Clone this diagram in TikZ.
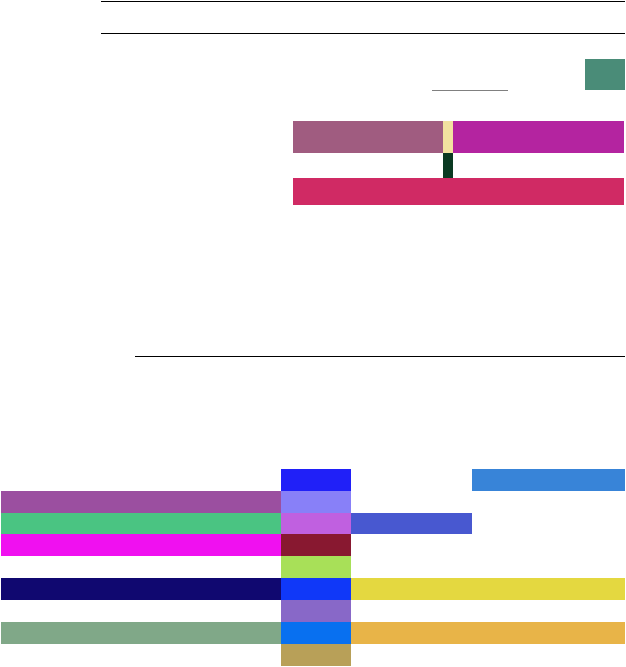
\documentclass[tikz,border=0pt]{standalone}
\definecolor{cA}{HTML}{4A8C78}
\definecolor{cB}{HTML}{A05C80}
\definecolor{cC}{HTML}{F2E2A0}
\definecolor{cD}{HTML}{B424A0}
\definecolor{cE}{HTML}{0A3A22}
\definecolor{cF}{HTML}{D02A64}
\definecolor{r1a}{HTML}{2020F8}
\definecolor{r1b}{HTML}{3884D8}
\definecolor{r2a}{HTML}{9B4FA0}
\definecolor{r2b}{HTML}{8880F8}
\definecolor{r3a}{HTML}{4AC482}
\definecolor{r3b}{HTML}{C060E0}
\definecolor{r3c}{HTML}{4858D0}
\definecolor{r4a}{HTML}{F010F0}
\definecolor{r4b}{HTML}{881830}
\definecolor{r5b}{HTML}{A8E058}
\definecolor{r6a}{HTML}{100870}
\definecolor{r6b}{HTML}{1038F8}
\definecolor{r6c}{HTML}{E4D840}
\definecolor{r7b}{HTML}{8868C8}
\definecolor{r8a}{HTML}{80A888}
\definecolor{r8b}{HTML}{0870F0}
\definecolor{r8c}{HTML}{E8B448}
\definecolor{r9b}{HTML}{B8A058}
\tikzset{rule/.style={line width=1pt,black},thin rule/.style={line width=0.8pt,gray}}
\begin{document}
\begin{tikzpicture}[x=1pt,y=-1pt]
\useasboundingbox (0,0) rectangle (625,667);
% top rules
\draw[rule] (101,1.5) -- (625,1.5);
\draw[rule] (101,33) -- (625,33);
\draw[thin rule] (432,90) -- (508,90);
\fill[cA] (585,59) rectangle (625,90);
% middle bars
\fill[cB] (293,121) rectangle (443,153);
\fill[cC] (443,121) rectangle (453,153);
\fill[cD] (453,121) rectangle (624,153);
\fill[cE] (443,153) rectangle (453,178);
\fill[cF] (293,178) rectangle (624,205);
\draw[rule] (135,356) -- (625,356);
% bottom grid
\fill[r1a] (281,469) rectangle (351,491);
\fill[r1b] (472,469) rectangle (625,491);
\fill[r2a] (1,491) rectangle (281,513);
\fill[r2b] (281,491) rectangle (351,513);
\fill[r3a] (1,513) rectangle (281,534);
\fill[r3b] (281,513) rectangle (351,534);
\fill[r3c] (351,513) rectangle (472,534);
\fill[r4a] (1,534) rectangle (281,556);
\fill[r4b] (281,534) rectangle (351,556);
\fill[r5b] (281,556) rectangle (351,578);
\fill[r6a] (1,578) rectangle (281,600);
\fill[r6b] (281,578) rectangle (351,600);
\fill[r6c] (351,578) rectangle (625,600);
\fill[r7b] (281,600) rectangle (351,622);
\fill[r8a] (1,622) rectangle (281,644);
\fill[r8b] (281,622) rectangle (351,644);
\fill[r8c] (351,622) rectangle (625,644);
\fill[r9b] (281,644) rectangle (351,666);
\end{tikzpicture}
\end{document}
